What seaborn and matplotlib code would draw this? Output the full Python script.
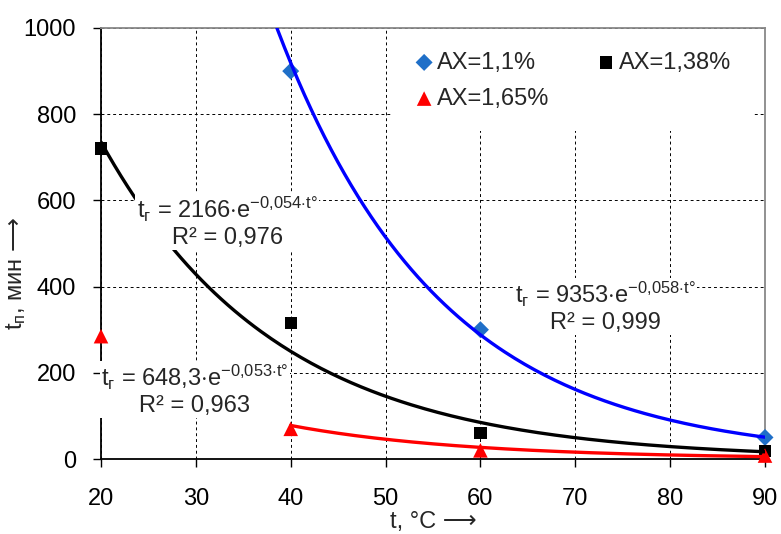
import numpy as np
import pandas as pd
import matplotlib
matplotlib.use("Agg")
import matplotlib.pyplot as plt
import seaborn as sns

# Измеренные точки (t, °C -> t_п, мин)
t_blue = [40, 60, 90]
v_blue = [900, 300, 50]
t_black = [20, 40, 60, 90]
v_black = [720, 315, 60, 18]
t_red = [20, 40, 60, 90]
v_red = [285, 70, 20, 8]

labels = ["AX=1,1%", "AX=1,38%", "AX=1,65%"]

# Коэффициенты трендов a·e^(b·t) из подписей на графике
coef_a = [9353, 2166, 648.3]
coef_b = [-0.058, -0.054, -0.053]
trend_start = [20, 20, 40]
r2 = ["0,999", "0,976", "0,963"]
eq_text = ["9353", "2166", "648,3"]
eq_b = ["0{,}058", "0{,}054", "0{,}053"]

sns.set_theme(style="white")
plt.rcParams["font.family"] = ["Liberation Sans", "DejaVu Sans"]
plt.rcParams["mathtext.fontset"] = "custom"
plt.rcParams["mathtext.rm"] = "Liberation Sans"
plt.rcParams["mathtext.it"] = "Liberation Sans"
plt.rcParams["mathtext.sf"] = "DejaVu Sans"

fig = plt.figure(figsize=(7.81, 5.34), dpi=100)
ax = fig.add_axes([101 / 781, 1 - 459 / 534, 664 / 781, 431 / 534])

line_colors = ["#0000FF", "black", "#FF0000"]
mark_colors = ["#1F6FC8", "black", "#FF0000"]
markers = ["D", "s", "^"]
sizes = [75, 80, 110]

handles = []
for tx, vy, c, m, s, lab in zip([t_blue, t_black, t_red], [v_blue, v_black, v_red],
                                mark_colors, markers, sizes, labels):
    sns.scatterplot(x=tx, y=vy, color=c, marker=m, s=s, edgecolor="none", ax=ax,
                    zorder=3, clip_on=False)
    handles.append(ax.collections[-1])

# Линии тренда
for a, b, t0, c in zip(coef_a, coef_b, trend_start, line_colors):
    tt = np.linspace(t0, 90, 200)
    sns.lineplot(x=tt, y=a * np.exp(b * tt), color=c, linewidth=2.4, ax=ax, zorder=4)

# Подписи уравнений
pos = [(73.2, 353), (33.3, 550), (29.9, 160)]
for (x, y), k, bb, r in zip(pos, eq_text, eq_b, r2):
    s = (r"$\mathrm{t_{г}}$ = " + k + r"$\cdot$e$^{-" + bb + r"{\cdot}t°}$" + "\n" + f"R² = {r}")
    ax.text(x, y, s, ha="center", va="center", fontsize=17, multialignment="center",
            linespacing=1.15, zorder=6,
            bbox=dict(facecolor="white", edgecolor="none", pad=1))

ax.set_xlim(20, 90)
ax.set_ylim(0, 1000)
ax.set_xticks(range(20, 91, 10))
ax.set_yticks(range(0, 1001, 200))
ax.tick_params(axis="both", labelsize=17, direction="out", length=6, width=1,
               color="black", labelcolor="black", left=True, bottom=True)
ax.tick_params(axis="x", pad=15)
ax.tick_params(axis="y", pad=12)
ax.grid(True, linestyle=(0, (3, 3)), color="black", linewidth=0.7)
ax.set_axisbelow(True)

for side in ["left", "bottom"]:
    ax.spines[side].set_color("black")
    ax.spines[side].set_linewidth(1.3)
for side in ["top", "right"]:
    ax.spines[side].set_color("#888888")
    ax.spines[side].set_linewidth(1.3)

ax.set_xlabel(r"t, °C ⟶", fontsize=17, labelpad=0.5)
ax.set_ylabel(r"$\mathrm{t_{п}}$, мин $\mathsf{⟶}$", fontsize=17)
ax.yaxis.set_label_coords(-0.11, 0.43)

leg = ax.legend([handles[0], handles[2], handles[1]], [labels[0], labels[2], labels[1]],
                ncol=2, loc="upper right", bbox_to_anchor=(1 - 10 / 664, 1),
                fontsize=17, frameon=True, fancybox=False,
                edgecolor="none", framealpha=1, borderaxespad=0.1, handletextpad=0.05,
                columnspacing=1.9, handlelength=1.0, labelspacing=0.6,
                borderpad=0.9)
leg.set_zorder(7)

fig.savefig("out.png", dpi=100)
